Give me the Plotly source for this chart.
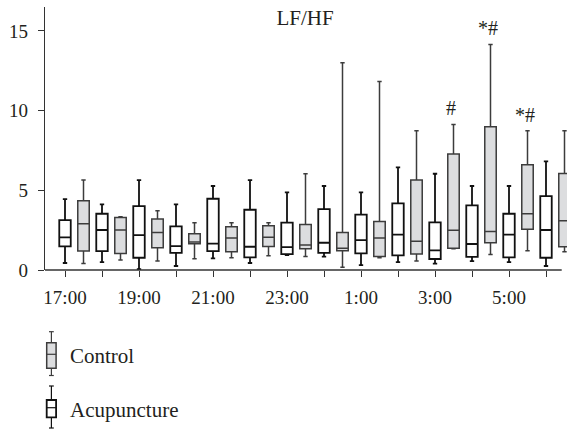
import plotly.graph_objects as go

# ---------------- data ----------------
hours = ["17:00", "18:00", "19:00", "20:00", "21:00", "22:00", "23:00",
         "0:00", "1:00", "2:00", "3:00", "4:00", "5:00", "6:00"]
tick_labels = ["17:00", "", "19:00", "", "21:00", "", "23:00",
               "", "1:00", "", "3:00", "", "5:00", ""]

acu_lower = [0.44, 0.50, 0.05, 0.25, 0.73, 0.44, 0.94, 0.84, 0.31, 0.50, 0.40, 0.56, 0.50, 0.25]
acu_q1 = [1.48, 1.19, 0.77, 1.07, 1.19, 0.79, 1.00, 1.07, 1.04, 0.92, 0.69, 0.82, 0.79, 0.77]
acu_median = [2.05, 2.51, 2.19, 1.50, 1.65, 1.46, 1.44, 1.71, 1.88, 2.22, 1.23, 1.63, 2.22, 2.51]
acu_q3 = [3.13, 3.53, 4.01, 2.74, 4.47, 3.78, 2.97, 3.82, 3.47, 4.18, 2.99, 4.05, 3.53, 4.64]
acu_upper = [4.45, 4.12, 5.64, 4.12, 5.27, 5.64, 4.87, 5.27, 4.87, 6.44, 6.04, 5.27, 5.27, 6.81]

ctl_lower = [0.40, 0.63, 0.56, 0.71, 0.77, 0.90, 0.84, 0.17, 0.77, 0.56, 1.34, 0.98, 1.21, 1.15]
ctl_q1 = [1.19, 1.04, 1.40, 1.65, 1.15, 1.48, 1.34, 1.21, 0.84, 1.00, 1.36, 1.71, 2.55, 1.46]
ctl_median = [2.90, 2.51, 2.36, 1.76, 2.01, 2.05, 1.57, 1.36, 2.01, 1.80, 2.49, 2.42, 3.53, 3.09]
ctl_q3 = [4.35, 3.30, 3.20, 2.28, 2.72, 2.78, 2.86, 2.36, 3.05, 5.64, 7.27, 8.99, 6.60, 6.06]
ctl_upper = [5.64, 3.34, 3.72, 2.97, 2.97, 2.97, 6.04, 13.0, 11.83, 8.74, 9.13, 14.15, 8.74, 8.74]

significance = ["", "", "", "", "", "", "", "", "", "", "#", "*#", "*#", ""]

y_ticks = [0, 5, 10, 15]

# ---------------- layout constants ----------------
W, H = 567, 430
L, R, T, B = 45, 0, 7, 160
PX_PER_UNIT = 37.0
X0_PX = 65.0
CTRL_OFFSET = 0.5
FONT = "Liberation Serif"
TXT = "#231f20"
GRAY_FILL = "#dcdddf"
GRAY_LINE = "#3c3c3c"

pw = W - L - R
ph = H - T - B

idx = list(range(len(hours)))
ctl_x = [i + CTRL_OFFSET for i in idx]

fig = go.Figure()
fig.add_trace(go.Box(
    x=idx, q1=acu_q1, median=acu_median, q3=acu_q3,
    lowerfence=acu_lower, upperfence=acu_upper,
    name="Acupuncture", width=0.31, whiskerwidth=0.38,
    fillcolor="white", line=dict(color="#111111", width=1.8),
    boxpoints=False, showlegend=False, hoverinfo="skip"))
fig.add_trace(go.Box(
    x=ctl_x, q1=ctl_q1, median=ctl_median, q3=ctl_q3,
    lowerfence=ctl_lower, upperfence=ctl_upper,
    name="Control", width=0.31, whiskerwidth=0.38,
    fillcolor=GRAY_FILL, line=dict(color=GRAY_LINE, width=1.5),
    boxpoints=False, showlegend=False, hoverinfo="skip"))

for xi, up, s in zip(ctl_x, ctl_upper, significance):
    if s:
        fig.add_annotation(x=xi, y=up, text=s, showarrow=False,
                           yanchor="bottom", yshift=3, xshift=-3,
                           font=dict(family=FONT, size=20, color=TXT))

# x-axis baseline (ends slightly before the right edge)
fig.add_shape(type="line", xref="paper", yref="paper",
              x0=0, x1=(561.7 - L) / pw, y0=0, y1=0,
              line=dict(color="#333333", width=1.3))


def px(xp):
    return (xp - L) / pw


def py(yp):
    return (H - B - yp) / ph


# custom legend icons (box with whiskers)
def legend_icon(cx, top, q3y, medy, q1y, bot, fill, color, lw):
    hw = 4.7
    cw = 2.4
    shapes = [
        dict(type="line", x0=px(cx), x1=px(cx), y0=py(top), y1=py(q3y)),
        dict(type="line", x0=px(cx), x1=px(cx), y0=py(q1y), y1=py(bot)),
        dict(type="line", x0=px(cx - cw), x1=px(cx + cw), y0=py(top), y1=py(top)),
        dict(type="line", x0=px(cx - cw), x1=px(cx + cw), y0=py(bot), y1=py(bot)),
    ]
    for s in shapes:
        fig.add_shape(xref="paper", yref="paper", line=dict(color=color, width=1.2), **s)
    fig.add_shape(type="rect", xref="paper", yref="paper",
                  x0=px(cx - hw), x1=px(cx + hw), y0=py(q1y), y1=py(q3y),
                  fillcolor=fill, line=dict(color=color, width=lw))
    fig.add_shape(type="line", xref="paper", yref="paper",
                  x0=px(cx - hw), x1=px(cx + hw), y0=py(medy), y1=py(medy),
                  line=dict(color=color, width=1.2))


legend_icon(51.4, 331.7, 342.7, 354.3, 368.3, 375.5, GRAY_FILL, GRAY_LINE, 1.5)
legend_icon(51.4, 386.0, 400.0, 407.7, 417.3, 428.0, "white", "#111111", 1.8)
fig.add_annotation(xref="paper", yref="paper", x=px(68), y=py(356), text="Control",
                   showarrow=False, xanchor="left", yanchor="middle",
                   font=dict(family=FONT, size=21, color=TXT))
fig.add_annotation(xref="paper", yref="paper", x=px(68), y=py(410), text="Acupuncture",
                   showarrow=False, xanchor="left", yanchor="middle",
                   font=dict(family=FONT, size=21, color=TXT))

fig.update_layout(
    width=W, height=H,
    margin=dict(l=L, r=R, t=T, b=B),
    paper_bgcolor="white", plot_bgcolor="white",
    title=dict(text="LF/HF", x=305 / W, xanchor="center",
               y=1 - 18 / H, yanchor="middle",
               font=dict(family=FONT, size=21, color=TXT)),
    font=dict(family=FONT, size=19, color=TXT),
    boxmode="overlay",
    xaxis=dict(range=[-(X0_PX - L) / PX_PER_UNIT, (W - R - X0_PX) / PX_PER_UNIT],
               tickmode="array", tickvals=idx, ticktext=tick_labels,
               ticks="outside", ticklen=6, tickwidth=1.3, tickcolor="#333333",
               showline=False, showgrid=False, zeroline=False,
               ticklabelstandoff=4,
               tickfont=dict(family=FONT, size=19, color=TXT)),
    yaxis=dict(range=[0, 16.5], tickvals=y_ticks,
               ticks="outside", ticklen=6, tickwidth=1.3, tickcolor="#333333",
               showline=True, linecolor="#333333", linewidth=1.3,
               showgrid=False, zeroline=False,
               ticklabelstandoff=6,
               tickfont=dict(family=FONT, size=19, color=TXT)),
)

fig.write_html("out.html", config={"displayModeBar": False},
               post_script="document.body.style.margin='0px';document.body.style.overflow='hidden';")
